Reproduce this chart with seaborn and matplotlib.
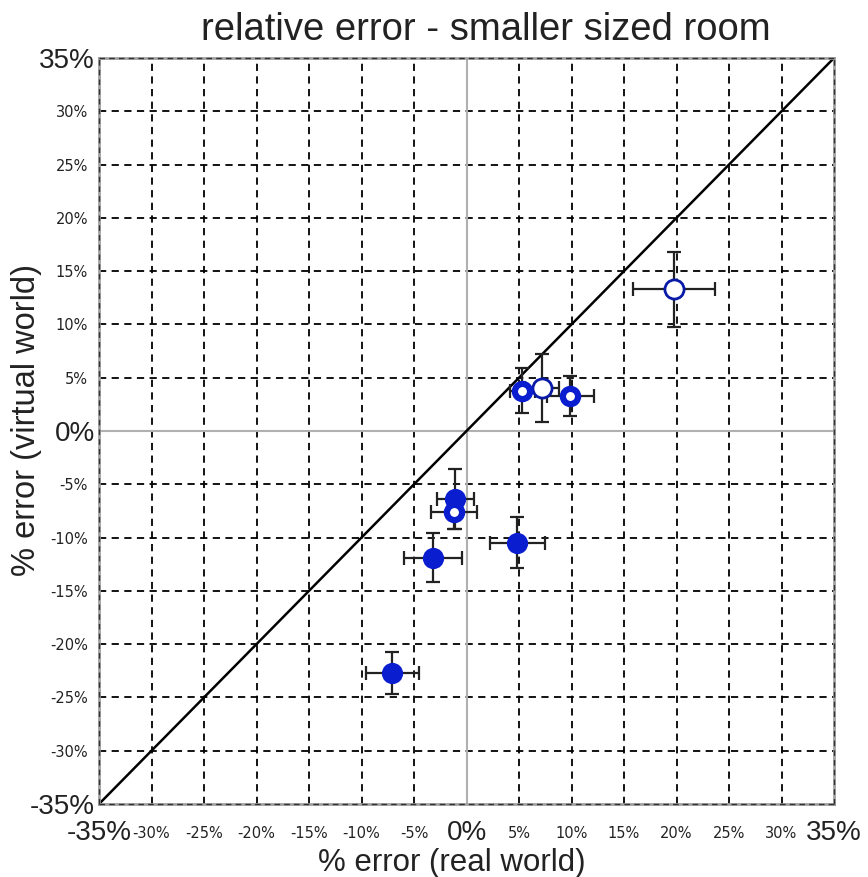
import matplotlib
matplotlib.use("Agg")
import matplotlib.pyplot as plt
import seaborn as sns
import pandas as pd

# data (percent)
x_vals = [19.8, 5.3, 7.2, 9.9, -1.05, -1.2, -3.2, 4.85, -7.05]
y_vals = [13.3, 3.8, 4.0, 3.3, -6.4, -7.6, -11.9, -10.5, -22.7]
x_err = [3.9, 1.2, 1.6, 2.2, 1.8, 2.2, 2.8, 2.6, 2.55]
y_err = [3.5, 2.1, 3.2, 1.9, 2.8, 1.6, 2.3, 2.4, 2.0]
styles = ["open", "ring", "open", "ring", "filled", "ring", "filled", "filled", "filled"]

ticks = list(range(-35, 40, 5))
tick_labels = [f"{t}%" for t in ticks]
big_ticks = (-35, 0, 35)

df = pd.DataFrame({"x": x_vals, "y": y_vals, "xerr": x_err, "yerr": y_err, "style": styles})

sns.set_theme(style="white")
plt.rcParams["font.family"] = ["Liberation Sans", "DejaVu Sans"]

fig = plt.figure(figsize=(8.68, 8.77), dpi=100)
ax = fig.add_axes([99/868, 1 - 804/877, (834 - 99)/868, (804 - 58)/877])

ax.set_xlim(-35, 35)
ax.set_ylim(-35, 35)

dash = (0, (4, 3))
# grid
for t in ticks[1:-1]:
    if t == 0:
        continue
    ax.axvline(t, color="black", lw=1.3, ls=dash, zorder=1)
    ax.axhline(t, color="black", lw=1.3, ls=dash, zorder=1)
ax.axvline(0, color="#b0b0b0", lw=1.5, zorder=1)
ax.axhline(0, color="#b0b0b0", lw=1.5, zorder=1)
# dashed frame over the gray border
for t in (-35, 35):
    ax.axvline(t, color="#333333", lw=1.0, ls=dash, zorder=5, clip_on=False)
    ax.axhline(t, color="#333333", lw=1.0, ls=dash, zorder=5, clip_on=False)

# diagonal
ax.plot([-35, 35], [-35, 35], color="black", lw=1.8, zorder=2)

# error bars
ax.errorbar(df["x"], df["y"], xerr=df["xerr"], yerr=df["yerr"], fmt="none",
            ecolor="#222222", elinewidth=1.6, capsize=5, capthick=1.6, zorder=3)

blue = "#0a1ed0"
styles_map = {
    "filled": dict(color=blue, edgecolor=blue, linewidth=1.5),
    "open": dict(color="white", edgecolor="#0a1aa8", linewidth=2.0),
    "ring": dict(color="white", edgecolor=blue, linewidth=4.5),
}
for st, kw in styles_map.items():
    sub = df[df["style"] == st]
    sns.scatterplot(data=sub, x="x", y="y", s=190 if st != "ring" else 120,
                    ax=ax, zorder=4, legend=False, **kw)

ax.set_xticks(ticks)
ax.set_yticks(ticks)
ax.set_xticklabels(tick_labels)
ax.set_yticklabels(tick_labels)
ax.tick_params(axis="both", length=0, colors="#222222")
ax.tick_params(axis="x", pad=21)

for tick, t in zip(ax.xaxis.get_major_ticks(), ticks):
    lbl = tick.label1
    lbl.set_verticalalignment("center")
    if t in big_ticks:
        lbl.set_fontsize(20)
    else:
        lbl.set_fontsize(10.5)
        lbl.set_fontfamily(["DejaVu Sans"])
for tick, t in zip(ax.yaxis.get_major_ticks(), ticks):
    lbl = tick.label1
    if t in big_ticks:
        lbl.set_fontsize(20)
        tick.set_pad(3)
    else:
        lbl.set_fontsize(10.5)
        lbl.set_fontfamily(["DejaVu Sans"])
        tick.set_pad(8)

for sp in ax.spines.values():
    sp.set_color("#a0a0a0")
    sp.set_linewidth(2.0)

ax.set_xlabel("% error (real world)", fontsize=22.5, color="#222222", va="top")
ax.xaxis.set_label_coords((452 - 99) / 735, -(848 - 804) / 746)
ax.set_ylabel("% error (virtual world)", fontsize=23.5, color="#222222")
ax.yaxis.set_label_coords((42 - 99) / 735, (804 - 420) / 746)
ax.set_title("relative error - smaller sized room", fontsize=27.5, color="#222222",
             x=(486 - 99) / 735, y=(804 - 30) / 746, va="center", pad=0)

fig.savefig("out.png", dpi=100)
